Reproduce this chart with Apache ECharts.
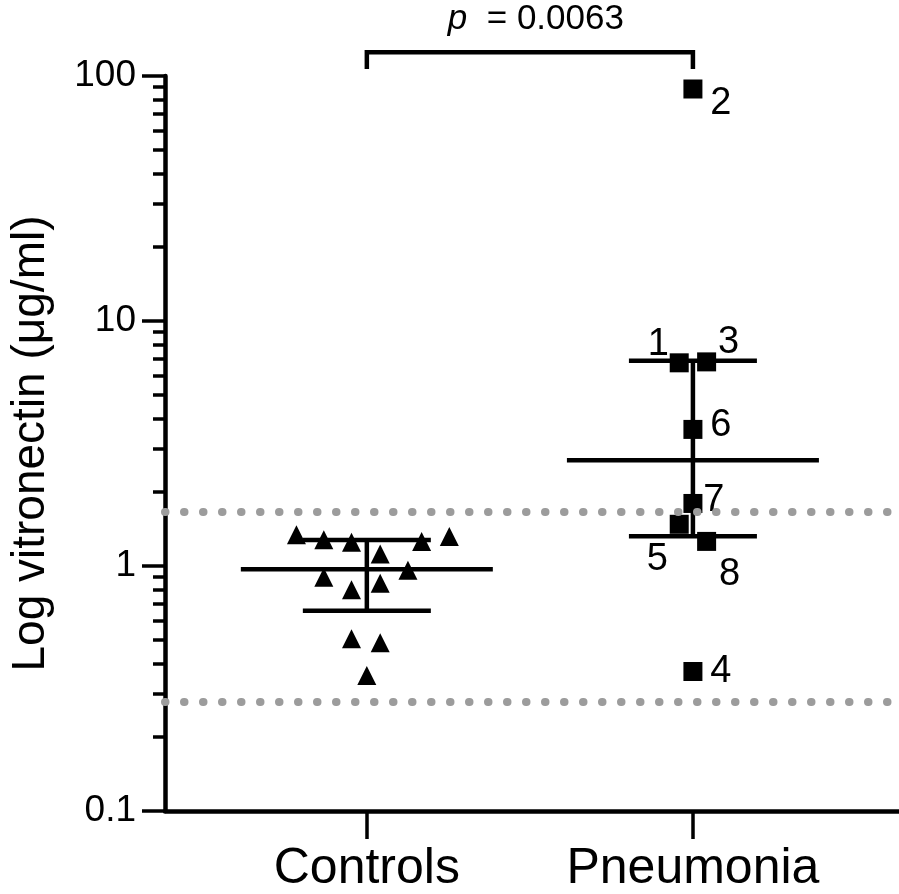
<!DOCTYPE html>
<html>
<head>
<meta charset="utf-8">
<script src="https://cdn.jsdelivr.net/npm/echarts@6/dist/echarts.min.js"></script>
<style>
  html, body { margin: 0; padding: 0; background: #fff; }
  #chart { width: 899px; height: 894px; }
</style>
</head>
<body>
<div id="chart"></div>
<script>
// ---- data ----
const groups = ['Controls', 'Pneumonia'];
const groupX = [1, 2];

const yTicks = [0.1, 1, 10, 100];
const yTickLabels = ['0.1', '1', '10', '100'];
const yMinorTicks = [0.2, 0.3, 0.4, 0.5, 0.6, 0.7, 0.8, 0.9,
                     2, 3, 4, 5, 6, 7, 8, 9,
                     20, 30, 40, 50, 60, 70, 80, 90];

// controls (triangles), x is group position + jitter
const controlsX = [0.784, 0.868, 0.953, 1.041, 1.168, 1.253, 0.868, 1.126, 1.041, 0.953, 0.953, 1.041, 1.0];
const controlsY = [1.34, 1.28, 1.25, 1.12, 1.26, 1.32, 0.90, 0.96, 0.85, 0.80, 0.505, 0.486, 0.357];

// pneumonia patients 1..8 (squares)
const pneumoniaIds = ['1', '2', '3', '4', '5', '6', '7', '8'];
const pneumoniaX = [1.958, 2.0, 2.042, 2.0, 1.958, 2.0, 2.0, 2.042];
const pneumoniaY = [6.75, 88.5, 6.81, 0.371, 1.48, 3.61, 1.80, 1.26];

// median and interquartile range per group
const medians = [0.97, 2.70];
const q1 = [0.656, 1.324];
const q3 = [1.276, 6.88];

// dotted reference lines
const refLines = [1.66, 0.28];

// significance bracket
const bracketTop = 125;
const bracketFoot = 106.8;
const pValue = '0.0063';

// ---- styles ----
const FONT = '"Liberation Sans", Arial, Helvetica, sans-serif';
const idLabelOffset = [[-21, -18], [28, 15], [22, -19], [28, 0], [-22, 35], [28, -4], [21, -3], [23, 33]];

const chart = echarts.init(document.getElementById('chart'));

const option = {
  animation: false,
  backgroundColor: '#fff',
  grid: { left: 155, right: 0, top: 76, bottom: 80, containLabel: false },
  xAxis: {
    type: 'value',
    min: 0.381,
    max: 2.632,
    splitLine: { show: false },
    axisLine: { onZero: false, lineStyle: { color: '#000', width: 4.5 } },
    axisTick: { customValues: groupX, length: 28, lineStyle: { color: '#000', width: 3.5 } },
    axisLabel: {
      customValues: groupX,
      margin: 33,
      color: '#000',
      fontFamily: FONT,
      fontSize: 50,
      formatter: (v) => groups[groupX.indexOf(Math.round(v))] || ''
    }
  },
  yAxis: [
    {
      type: 'log',
      logBase: 10,
      min: 0.1,
      max: 100,
      position: 'left',
      name: 'Log vitronectin (μg/ml)',
      nameLocation: 'middle',
      nameGap: 111,
      nameTextStyle: { color: '#000', fontFamily: FONT, fontSize: 46 },
      splitLine: { show: false },
      axisLine: { show: true, onZero: false, lineStyle: { color: '#000', width: 4.5 } },
      axisTick: { customValues: yTicks, length: 23, lineStyle: { color: '#000', width: 3.5 } },
      axisLabel: {
        customValues: yTicks,
        margin: 29,
        color: '#000',
        fontFamily: FONT,
        fontSize: 37,
        formatter: (v) => yTickLabels[yTicks.findIndex(t => Math.abs(t - v) / t < 1e-6)]
      }
    },
    {
      type: 'log',
      logBase: 10,
      min: 0.1,
      max: 100,
      position: 'left',
      splitLine: { show: false },
      axisLine: { show: false, onZero: false },
      axisLabel: { show: false },
      axisTick: { customValues: yMinorTicks, length: 12, lineStyle: { color: '#000', width: 3.5 } }
    }
  ],
  series: [
    {
      // significance bracket, drawn above the plot area
      type: 'line',
      clip: false,
      silent: true,
      z: 1,
      symbol: 'none',
      lineStyle: { color: '#000', width: 4.5, join: 'miter' },
      data: [[groupX[0], bracketFoot], [groupX[0], bracketTop], [groupX[1], bracketTop], [groupX[1], bracketFoot]],
      markLine: {
        silent: true,
        symbol: ['none', 'none'],
        label: { show: false },
        lineStyle: { color: '#9c9c9c', width: 8, type: [0.5, 18.5], cap: 'round', opacity: 1 },
        data: refLines.map(v => ({ yAxis: v }))
      }
    },
    {
      // median + IQR bars
      type: 'custom',
      z: 2,
      silent: true,
      data: groupX.map((x, i) => [x, medians[i], q1[i], q3[i]]),
      renderItem: (params, api) => {
        const m = api.coord([api.value(0), api.value(1)]);
        const lo = api.coord([api.value(0), api.value(2)]);
        const hi = api.coord([api.value(0), api.value(3)]);
        const style = { stroke: '#000', lineWidth: 4.5 };
        const seg = (x1, y1, x2, y2) => ({ type: 'line', shape: { x1, y1, x2, y2 }, style });
        return {
          type: 'group',
          children: [
            seg(m[0] - 126, m[1], m[0] + 126, m[1]),
            seg(hi[0] - 64, hi[1], hi[0] + 64, hi[1]),
            seg(lo[0] - 64, lo[1], lo[0] + 64, lo[1]),
            seg(m[0], hi[1], m[0], lo[1])
          ]
        };
      }
    },
    {
      name: 'Controls',
      type: 'scatter',
      z: 3,
      symbol: 'triangle',
      symbolSize: 19,
      itemStyle: { color: '#000', opacity: 1 },
      data: controlsX.map((x, i) => [x, controlsY[i]])
    },
    {
      name: 'Pneumonia',
      type: 'scatter',
      z: 3,
      symbol: 'rect',
      symbolSize: 19,
      itemStyle: { color: '#000', opacity: 1 },
      data: pneumoniaX.map((x, i) => ({
        value: [x, pneumoniaY[i]],
        label: { offset: idLabelOffset[i] }
      })),
      label: {
        show: true,
        position: 'inside',
        align: 'center',
        verticalAlign: 'middle',
        color: '#000',
        fontFamily: FONT,
        fontSize: 38,
        formatter: (p) => pneumoniaIds[p.dataIndex]
      }
    }
  ]
};

chart.setOption(option);

// p-value text centred over the bracket
const cx = (chart.convertToPixel({ xAxisIndex: 0 }, groupX[0]) + chart.convertToPixel({ xAxisIndex: 0 }, groupX[1])) / 2;
const by = chart.convertToPixel({ yAxisIndex: 0 }, bracketTop);
chart.setOption({
  graphic: [{
    type: 'text',
    x: cx + 6,
    y: by - 33,
    style: {
      text: '{i|p}{n|  = ' + pValue + '}',
      align: 'center',
      verticalAlign: 'middle',
      fill: '#000',
      rich: {
        i: { fontFamily: FONT, fontSize: 35, fontStyle: 'italic', fill: '#000' },
        n: { fontFamily: FONT, fontSize: 35, fill: '#000' }
      }
    }
  }]
});
</script>
</body>
</html>
